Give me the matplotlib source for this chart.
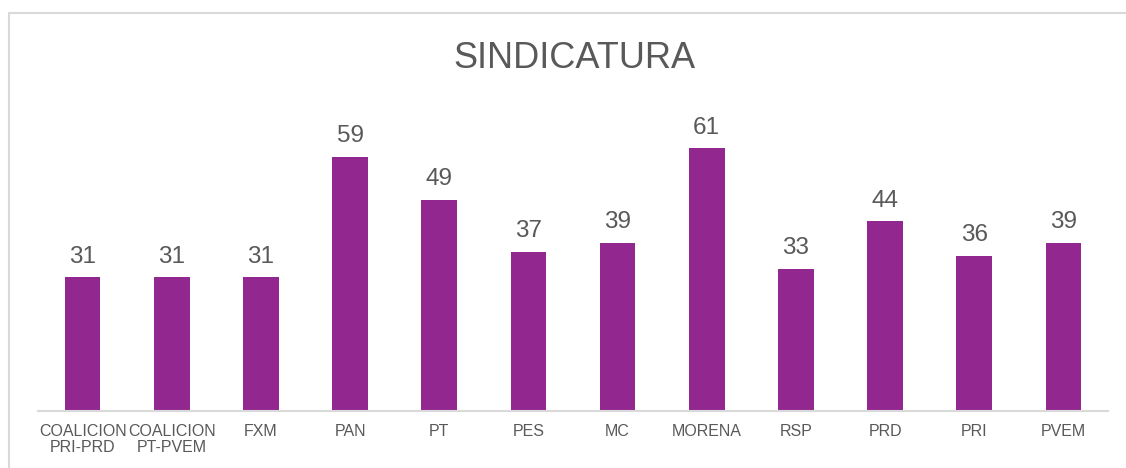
import matplotlib.pyplot as plt
from matplotlib.patches import Rectangle

partidos = ['COALICION\nPRI-PRD', 'COALICION\nPT-PVEM', 'FXM', 'PAN', 'PT', 'PES',
            'MC', 'MORENA', 'RSP', 'PRD', 'PRI', 'PVEM']
votos = [31, 31, 31, 59, 49, 37, 39, 61, 33, 44, 36, 39]

plt.rcParams['font.family'] = ['Liberation Sans', 'DejaVu Sans']
gris = '#595959'

W, H = 1126, 468
fig = plt.figure(figsize=(W / 100, H / 100), dpi=100)

# marco del grafico (recortado a la derecha y abajo)
fig.patches.append(Rectangle((9 / W, -0.1), 1.2, 1 - 13 / H + 0.1,
                             transform=fig.transFigure, fill=False,
                             edgecolor='#D9D9D9', linewidth=1.5))

ax = fig.add_axes([38 / W, (H - 411) / H, (1108 - 38) / W, (411 - 100) / H])
x = range(len(partidos))
bars = ax.bar(x, votos, width=0.4, color='#92278F')
ax.set_xlim(-0.5, len(partidos) - 0.5)
ax.set_ylim(0, 72.2)

for b, v in zip(bars, votos):
    ax.annotate(str(v), (b.get_x() + b.get_width() / 2, v), xytext=(0, 7),
                textcoords='offset points', ha='center', va='bottom',
                fontsize=17.5, color=gris)

ax.set_xticks(list(x))
ax.set_xticklabels(partidos, fontsize=11.5, color=gris, linespacing=1.1)
ax.tick_params(axis='x', length=0, pad=9)
ax.set_yticks([])
for s in ['top', 'right', 'left']:
    ax.spines[s].set_visible(False)
ax.spines['bottom'].set_color('#D9D9D9')
ax.spines['bottom'].set_linewidth(1.5)

fig.text(574 / W, 1 - 68 / H, 'SINDICATURA', ha='center', va='baseline',
         fontsize=26, color=gris)

fig.savefig('out.png', dpi=100)
